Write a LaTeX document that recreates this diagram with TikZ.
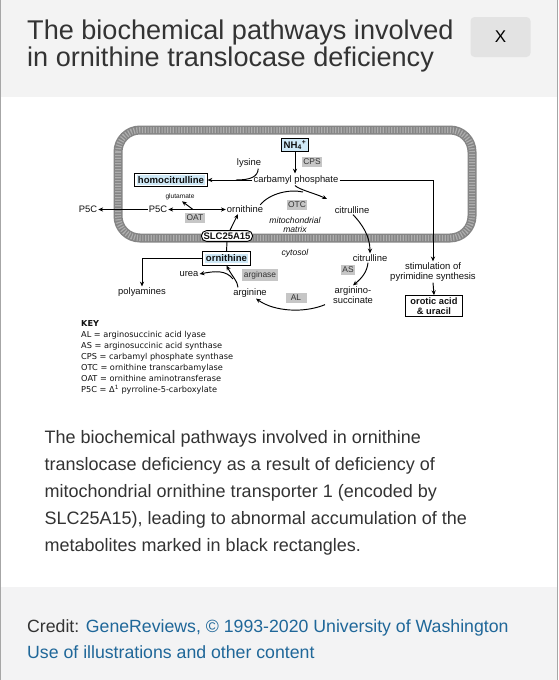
\documentclass[tikz,border=0pt]{standalone}
\usepackage{fontspec}
\setmainfont{Liberation Sans}
\newfontfamily\keyfont{DejaVu Sans}
\usetikzlibrary{arrows.meta}
\definecolor{headbg}{HTML}{F3F3F3}
\definecolor{footbg}{HTML}{F3F3F4}
\definecolor{btnbg}{HTML}{E3E3E3}
\definecolor{txt}{HTML}{333333}
\definecolor{linkc}{HTML}{1F6799}
\definecolor{gbox}{HTML}{C6C6C6}
\definecolor{hl}{HTML}{CFE9F7}
\definecolor{memb}{HTML}{858585}
\definecolor{membdot}{HTML}{AEAEAE}
\definecolor{dtext}{HTML}{111111}
\tikzset{
  lbl/.style={font=\fontsize{9.4}{10}\selectfont, text=dtext, inner sep=1pt},
  enz/.style={fill=gbox, font=\fontsize{8.4}{9}\selectfont, text=black!80, inner sep=1.6pt, minimum height=10pt},
  hbox/.style={draw, line width=1pt, fill=white, font=\bfseries\fontsize{9.6}{10}\selectfont, text=dtext, inner sep=2pt},
  slcbox/.style={draw, line width=0.9pt, fill=white, rounded corners=5pt, font=\bfseries\fontsize{9.5}{10}\selectfont, text=dtext, inner sep=2pt},
  itl/.style={font=\itshape\fontsize{8.6}{9}\selectfont, text=dtext, inner sep=1pt},
  arr/.style={line width=0.95pt, -{Stealth[length=4.8pt,width=4.2pt]}},
  arrtwo/.style={line width=0.95pt, {Stealth[length=4.8pt,width=4.2pt]}-{Stealth[length=4.8pt,width=4.2pt]}},
  plain/.style={line width=0.95pt},
  pagetext/.style={anchor=base west, inner sep=0pt, text=txt},
  keyline/.style={anchor=base west, inner sep=0pt, font=\keyfont\fontsize{8.2}{9}\selectfont, text=dtext},
}
\begin{document}
\begin{tikzpicture}[x=1pt,y=-1pt]
\useasboundingbox (0,0) rectangle (558,680);
\fill[white] (0,0) rectangle (558,680);
% header and footer
\fill[headbg] (0,0) rectangle (558,97);
\fill[footbg] (0,587) rectangle (558,680);
\draw[gray!70, line width=1.2pt] (0.6,0) -- (0.6,680);
\draw[gray!70, line width=1.2pt] (557.4,0) -- (557.4,680);
\node[pagetext, font=\fontsize{27.1}{30}\selectfont] (t1) at (27,39.5) {The biochemical pathways involved};
\node[pagetext, font=\fontsize{27.1}{30}\selectfont] (t2) at (27,66.5) {in ornithine translocase deficiency};
\node[fill=btnbg, rounded corners=4pt, minimum width=60pt, minimum height=40pt, inner sep=0pt, font=\fontsize{17}{18}\selectfont, text=black] (xbtn) at (500.5,37) {X};

% mitochondrion
\draw[memb, line width=9pt, rounded corners=22pt] (118,130) rectangle (472,238);
\draw[membdot, line width=6pt, dash pattern=on 1.2pt off 1.6pt, rounded corners=22pt] (118,130) rectangle (472,238);

% nodes
\node[hbox, fill=hl, inner sep=2pt] (nh4) at (295,145) {NH\textsubscript{4}\textsuperscript{+}};
\node[enz] (cps) at (312,162) {CPS};
\node[lbl] (lys) at (249,163) {lysine};
\node[hbox] (homo) at (171,180) {\setlength{\fboxsep}{1pt}\colorbox{hl}{homocitrulline}};
\node[lbl] (cp) at (296,180) {carbamyl phosphate};
\node[lbl, font=\fontsize{6.6}{7}\selectfont] (glu) at (180,197) {glutamate};
\node[lbl] (p5ci) at (158,209.5) {P5C};
\node[lbl] (p5co) at (88,209.5) {P5C};
\node[enz] (oat) at (195,218) {OAT};
\node[lbl] (orni) at (245,209.5) {ornithine};
\node[enz] (otc) at (297,205) {OTC};
\node[lbl] (citi) at (352,210) {citrulline};
\node[itl] (mm1) at (295,220) {mitochondrial};
\node[itl] (mm2) at (295,229.5) {matrix};
\node[slcbox] (slc) at (227,236) {SLC25A15};
\node[hbox] (orno) at (226.5,258.5) {\setlength{\fboxsep}{1pt}\colorbox{hl}{ornithine}};
\node[itl] (cyto) at (295,253) {cytosol};
\node[lbl] (cito) at (370,258) {citrulline};
\node[enz] (as) at (348,270) {AS};
\node[lbl, align=center, font=\fontsize{9.4}{10}\selectfont] (asuc) at (353,295) {arginino-\\succinate};
\node[enz, minimum width=21pt] (al) at (296,298) {AL};
\node[lbl] (arg) at (250,293) {arginine};
\node[enz] (argase) at (260,275) {arginase};
\node[lbl] (urea) at (189,274) {urea};
\node[lbl] (poly) at (142,292) {polyamines};
\node[lbl, align=center, font=\fontsize{9.5}{10}\selectfont] (stim) at (433,272) {stimulation of\\pyrimidine synthesis};
\node[hbox, align=center, font=\bfseries\fontsize{9.3}{9.8}\selectfont, minimum width=57pt, inner sep=2pt] (oro) at (434,306) {orotic acid\\\& uracil};

% coordinates
\coordinate (oatm) at (193,209.5);
\coordinate (lysj) at (236,180);
\coordinate (otcj) at (303,192);
\coordinate (ctip) at (327,199);
\coordinate (br) at (233,279);

% connectors
\draw[arr] (nh4.south) -- (295,173.5);
\draw[arr] (cp.west) -- (homo.east);
\draw[plain] ([xshift=-4pt]lys.south east) .. controls (258,177) and (250,180) .. (lysj);
\draw[arr] (cp.east) -| (stim.north);
\draw[arr] (p5ci.west) -- (p5co.east);
\draw[arrtwo] (p5ci.east) -- (orni.west);
\draw[arr] (oatm) -- ([xshift=2pt]glu.south);
\draw[arr] ([xshift=3pt]slc.north) -- ([xshift=-7pt]orni.south);
\draw[plain] ([xshift=-4pt]orni.north east) .. controls (270,193) and (290,189) .. (otcj);
\draw[arr] ([xshift=-1pt]cp.south) .. controls (300,190) and (314,193) .. (ctip);
\draw[arr] ([xshift=1pt]citi.south) .. controls (362,224) and (370,236) .. (cito.north);
\draw[plain] (slc.south) -- (orno.north);
\draw[arr] ([xshift=-2pt]cito.south) .. controls (367,272) and (362,278) .. (asuc.north);
\draw[arr] ([xshift=-28pt]asuc.south) .. controls (305,313) and (275,312) .. ([xshift=6pt]arg.south);
\draw[arr] ([xshift=-12pt]arg.north) .. controls (238,282) and (232,276) .. (orno.south);
\draw[arr] (br) .. controls (226,270) and (215,271) .. (urea.east);
\draw[arr] (orno.west) -| (poly.north);
\draw[arr] (stim.south) -- (oro.north);

% key
\node[keyline, font=\keyfont\bfseries\fontsize{8.2}{9}\selectfont] (key) at (81,326) {KEY};
\node[keyline] (k1) at (81,337) {AL = arginosuccinic acid lyase};
\node[keyline] (k2) at (81,348) {AS = arginosuccinic acid synthase};
\node[keyline] (k3) at (81,359) {CPS = carbamyl phosphate synthase};
\node[keyline] (k4) at (81,370) {OTC = ornithine transcarbamylase};
\node[keyline] (k5) at (81,381.5) {OAT = ornithine aminotransferase};
\node[keyline] (k6) at (81,392.5) {P5C = Δ\textsuperscript{1} pyrroline-5-carboxylate};

% caption
\node[pagetext, font=\fontsize{18}{20}\selectfont] (c1) at (44.5,443) {The biochemical pathways involved in ornithine};
\node[pagetext, font=\fontsize{18}{20}\selectfont] (c2) at (44.5,470.5) {translocase deficiency as a result of deficiency of};
\node[pagetext, font=\fontsize{18}{20}\selectfont] (c3) at (44.5,497.5) {mitochondrial ornithine transporter 1 (encoded by};
\node[pagetext, font=\fontsize{18}{20}\selectfont] (c4) at (44.5,524.5) {SLC25A15), leading to abnormal accumulation of the};
\node[pagetext, font=\fontsize{18}{20}\selectfont] (c5) at (44.5,551.5) {metabolites marked in black rectangles.};

% footer
\node[pagetext, font=\fontsize{17.7}{20}\selectfont] (f1) at (27,632) {Credit: \textcolor{linkc}{GeneReviews, \textcopyright{} 1993-2020 University of Washington}};
\node[pagetext, font=\fontsize{17.7}{20}\selectfont, text=linkc] (f2) at (27,658) {Use of illustrations and other content};
\end{tikzpicture}
\end{document}
